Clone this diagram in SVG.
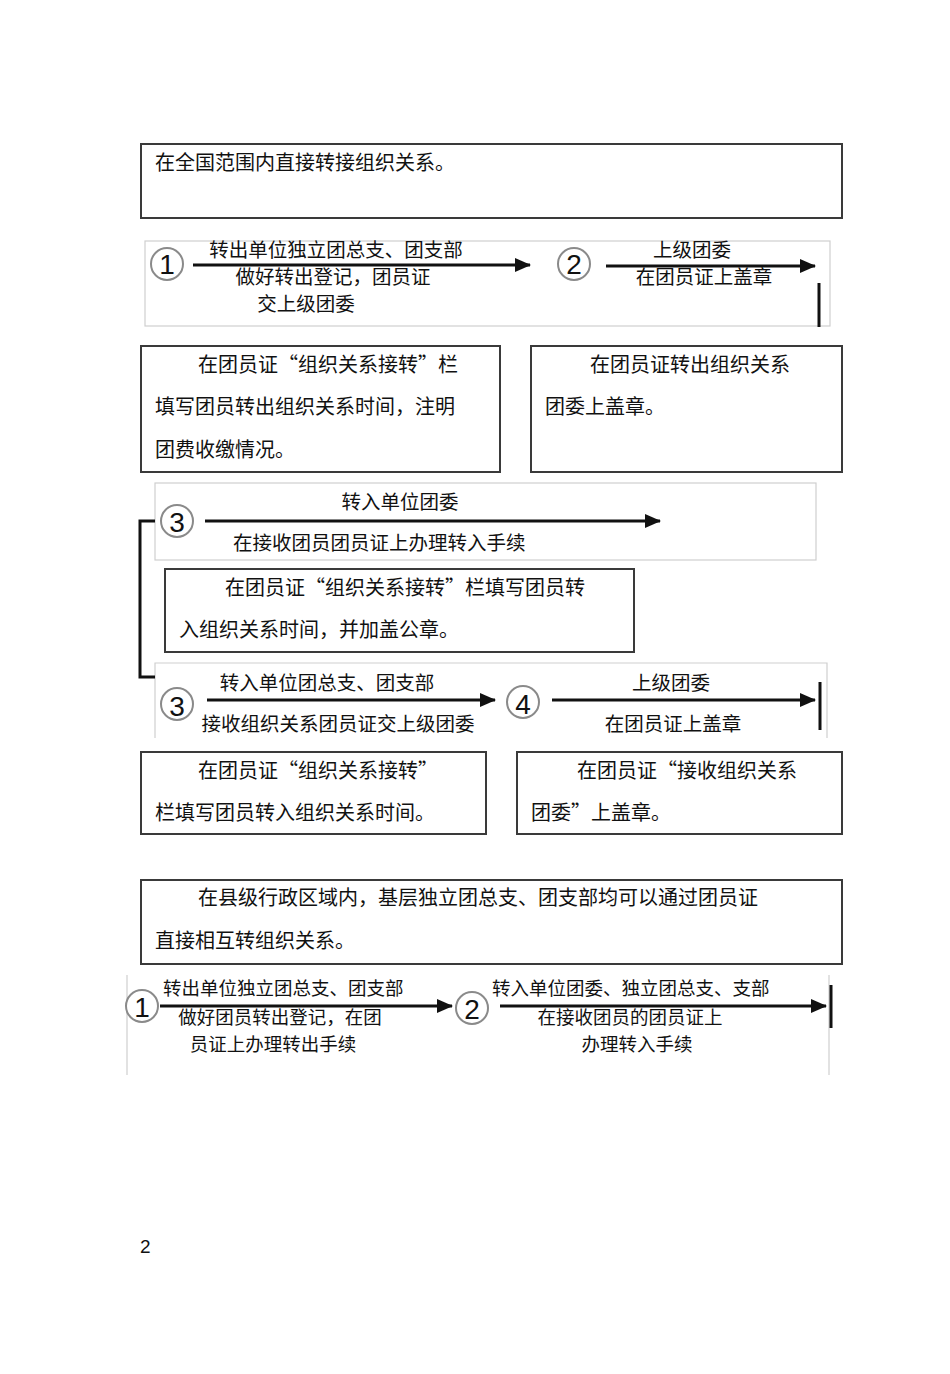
<svg xmlns="http://www.w3.org/2000/svg" width="950" height="1374" viewBox="0 0 950 1374">
<defs>
<marker id="ah" markerWidth="16" markerHeight="14" refX="15" refY="7" orient="auto" markerUnits="userSpaceOnUse">
<path d="M0,0 L16,7 L0,14 Z" fill="#111"/>
</marker>
<style>
.box{fill:#fff;stroke:#3a3a3a;stroke-width:2}
.panel{fill:none;stroke:#cfcfcf;stroke-width:1.2}
.t{font-family:"Noto Sans CJK SC","Liberation Sans",sans-serif;font-size:20px;fill:#111}
.f{font-family:"Noto Sans CJK SC","Liberation Sans",sans-serif;font-size:19.5px;fill:#111}
.g{font-family:"Noto Sans CJK SC","Liberation Sans",sans-serif;font-size:18.5px;fill:#111}
.c{fill:#fff;stroke:#8a8a8a;stroke-width:2}
.n{font-family:"Liberation Sans",Arial,sans-serif;font-size:28px;fill:#111;text-anchor:middle}
.ar{stroke:#111;stroke-width:3.2;fill:none;marker-end:url(#ah)}
.bar{stroke:#111;stroke-width:3;fill:none}
.mid{text-anchor:middle}
</style>
</defs>
<rect width="950" height="1374" fill="#fff"/>

<g id="box1"><rect class="box" x="141" y="144" width="701" height="74"/><text class="t" x="155" y="170">在全国范围内直接转接组织关系。</text></g>

<g id="panel1">
<rect class="panel" x="145" y="241" width="685" height="85"/>
<circle class="c" cx="167" cy="264" r="16"/><text class="n" x="167" y="274">1</text>
<text class="f mid" x="336" y="257">转出单位独立团总支、团支部</text>
<text class="f mid" x="333" y="284">做好转出登记，团员证</text>
<text class="f mid" x="306" y="311">交上级团委</text>
<circle class="c" cx="574" cy="264" r="16"/><text class="n" x="574" y="274">2</text>
<text class="f mid" x="692" y="257">上级团委</text>
<text class="f mid" x="704" y="284">在团员证上盖章</text>
</g>

<g id="box2"><rect class="box" x="141" y="346" width="359" height="126"/>
<text class="t" x="198" y="372">在团员证“组织关系接转”栏</text>
<text class="t" x="155" y="414">填写团员转出组织关系时间，注明</text>
<text class="t" x="155" y="457">团费收缴情况。</text></g>

<g id="box3"><rect class="box" x="531" y="346" width="311" height="126"/>
<text class="t" x="590" y="372">在团员证转出组织关系</text>
<text class="t" x="545" y="414">团委上盖章。</text></g>

<g id="panel2">
<rect class="panel" x="155" y="483" width="661" height="77"/>
<circle class="c" cx="177" cy="521" r="16"/><text class="n" x="177" y="532">3</text>
<text class="f mid" x="400" y="509">转入单位团委</text>
<text class="f" x="233" y="550">在接收团员团员证上办理转入手续</text>
</g>

<g id="box4"><rect class="box" x="165" y="569" width="469" height="83"/>
<text class="t" x="225" y="595">在团员证“组织关系接转”栏填写团员转</text>
<text class="t" x="179" y="637">入组织关系时间，并加盖公章。</text></g>

<g id="panel3">
<path class="panel" d="M155,738 V663 H827 V738"/>
<circle class="c" cx="177" cy="704" r="16"/><text class="n" x="177" y="716">3</text>
<text class="f mid" x="327" y="690">转入单位团总支、团支部</text>
<text class="f mid" x="338" y="731">接收组织关系团员证交上级团委</text>
<circle class="c" cx="523" cy="702" r="16"/><text class="n" x="523" y="714">4</text>
<text class="f mid" x="671" y="690">上级团委</text>
<text class="f mid" x="673" y="731">在团员证上盖章</text>
</g>

<g id="box5"><rect class="box" x="141" y="752" width="345" height="82"/>
<text class="t" x="198" y="778">在团员证“组织关系接转”</text>
<text class="t" x="155" y="820">栏填写团员转入组织关系时间。</text></g>

<g id="box6"><rect class="box" x="517" y="752" width="325" height="82"/>
<text class="t" x="577" y="778">在团员证“接收组织关系</text>
<text class="t" x="531" y="820">团委”上盖章。</text></g>

<g id="box7"><rect class="box" x="141" y="880" width="701" height="84"/>
<text class="t" x="198" y="905">在县级行政区域内，基层独立团总支、团支部均可以通过团员证</text>
<text class="t" x="155" y="948">直接相互转组织关系。</text></g>

<g id="panel4">
<path class="panel" d="M127,975 V1075 M829,975 V1075"/>
<circle class="c" cx="142" cy="1006" r="16"/><text class="n" x="142" y="1017">1</text>
<text class="g" x="163" y="995">转出单位独立团总支、团支部</text>
<text class="g mid" x="280" y="1024">做好团员转出登记，在团</text>
<text class="g mid" x="273" y="1051">员证上办理转出手续</text>
<circle class="c" cx="472" cy="1008" r="16"/><text class="n" x="472" y="1019">2</text>
<text class="g" x="492" y="995">转入单位团委、独立团总支、支部</text>
<text class="g mid" x="630" y="1024">在接收团员的团员证上</text>
<text class="g mid" x="637" y="1051">办理转入手续</text>
</g>

<g id="connectors">
<line class="ar" x1="193" y1="265" x2="530" y2="265"/>
<line class="ar" x1="606" y1="266" x2="815" y2="266"/>
<line class="bar" x1="819" y1="283" x2="819" y2="327"/>
<line class="ar" x1="205" y1="521" x2="660" y2="521"/>
<path class="bar" d="M155,521 H140 V677 H155" stroke-width="2.5"/>
<line class="ar" x1="207" y1="700" x2="495" y2="700"/>
<line class="ar" x1="552" y1="700" x2="815" y2="700"/>
<line class="bar" x1="820" y1="682" x2="820" y2="730" stroke-width="2"/>
<line class="ar" x1="160" y1="1006" x2="452" y2="1006"/>
<line class="ar" x1="500" y1="1006" x2="826" y2="1006"/>
<line class="bar" x1="831" y1="985" x2="831" y2="1028" stroke-width="2"/>
</g>

<text x="140" y="1253" font-family="Liberation Sans, Arial, sans-serif" font-size="19" fill="#111">2</text>
</svg>
